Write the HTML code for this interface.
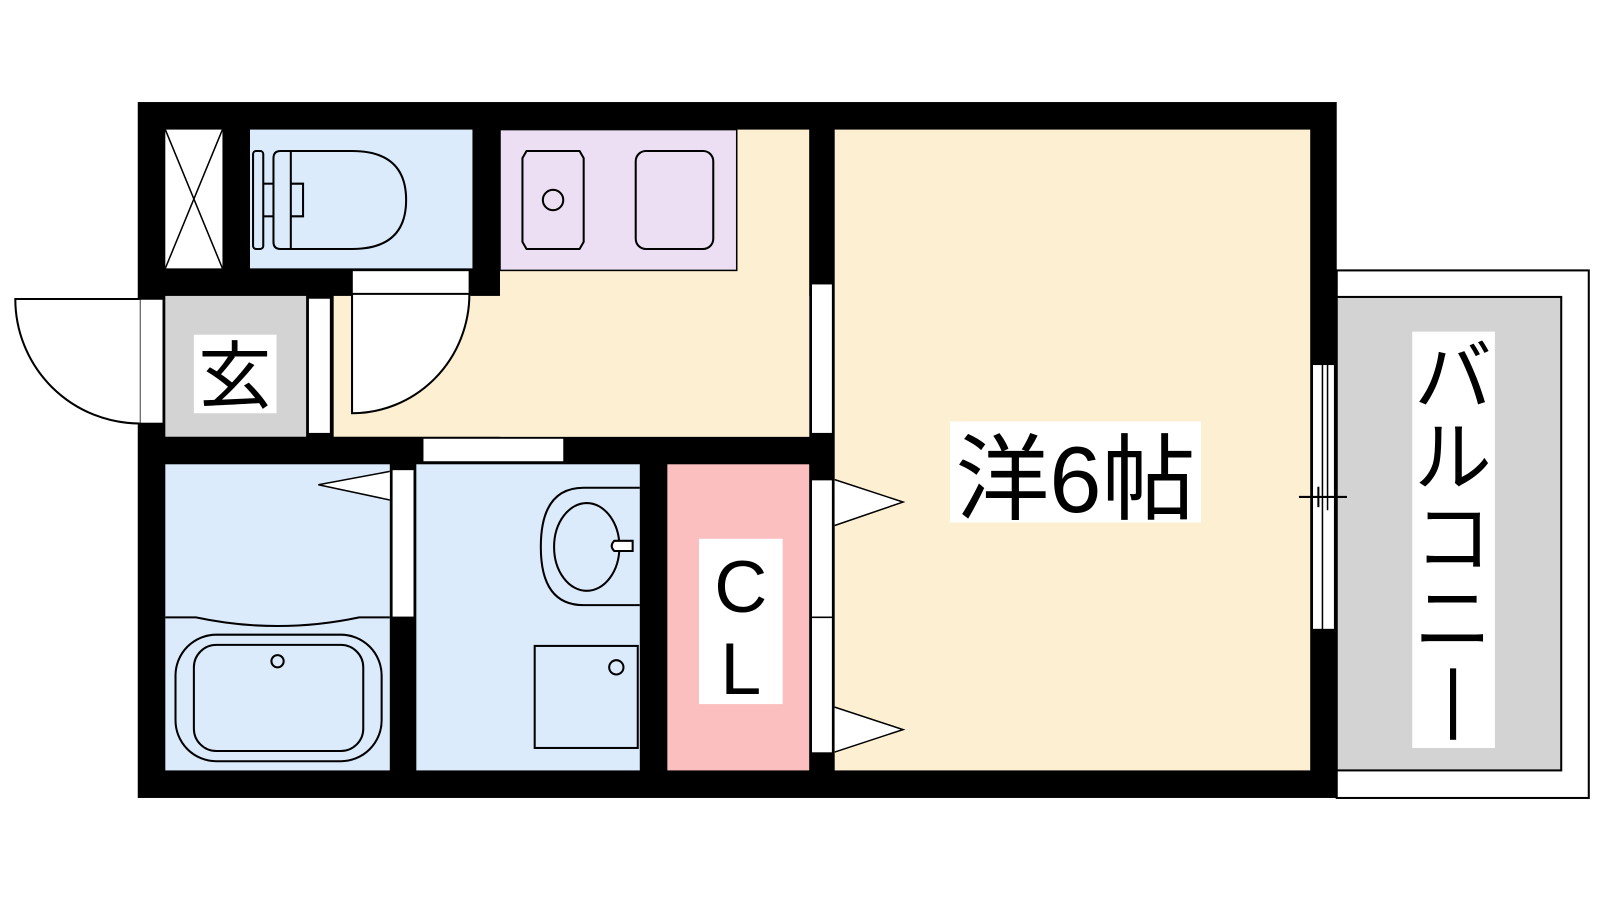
<!DOCTYPE html>
<html><head><meta charset="utf-8"><style>html,body{margin:0;padding:0;background:#fff;width:1600px;height:900px;overflow:hidden}svg{display:block}</style></head><body>
<svg width="1600" height="900" viewBox="0 0 1568 882" preserveAspectRatio="none" xmlns="http://www.w3.org/2000/svg">
<rect x="1310" y="265" width="247" height="517" fill="#fff" stroke="#000" stroke-width="2"/>
<rect x="1310" y="291" width="220" height="464" fill="#d3d3d3" stroke="#000" stroke-width="2"/>
<rect x="135" y="100" width="1175" height="682" fill="#000"/>
<rect x="162" y="127" width="56" height="136" fill="#fff"/>
<line x1="162" y1="127" x2="218" y2="263" stroke="#000" stroke-width="1.5"/>
<line x1="218" y1="127" x2="162" y2="263" stroke="#000" stroke-width="1.5"/>
<rect x="245" y="127" width="218" height="136" fill="#dbebfc"/>
<rect x="490" y="127" width="303" height="301" fill="#fdf0d2"/>
<rect x="327" y="290" width="466" height="138" fill="#fdf0d2"/>
<rect x="490" y="127" width="232" height="138" fill="#ecdff4" stroke="#000" stroke-width="1.5"/>
<rect x="162" y="290" width="138" height="138" fill="#d3d3d3"/>
<rect x="162" y="455" width="220" height="300" fill="#dbebfc"/>
<rect x="408" y="455" width="219" height="300" fill="#dbebfc"/>
<rect x="654" y="455" width="139" height="300" fill="#fcbfbf"/>
<rect x="818" y="127" width="466" height="628" fill="#fdf0d2"/>
<rect x="345" y="265" width="115" height="23" fill="#fff" stroke="#000" stroke-width="1.5"/>
<rect x="302" y="292" width="22" height="133" fill="#fff" stroke="#000" stroke-width="1.5"/>
<rect x="137" y="293" width="23" height="122" fill="#fff" stroke="#000" stroke-width="1.5"/>
<rect x="415" y="430" width="137" height="22" fill="#fff"/>
<rect x="384" y="460" width="22" height="145" fill="#fff" stroke="#000" stroke-width="1.5"/>
<rect x="795" y="278" width="21" height="147" fill="#fff" stroke="#000" stroke-width="1.5"/>
<rect x="795" y="470" width="21" height="135" fill="#fff" stroke="#000" stroke-width="1.5"/>
<rect x="795" y="605" width="21" height="133" fill="#fff" stroke="#000" stroke-width="1.5"/>
<rect x="1286" y="357" width="22" height="260" fill="#fff" stroke="#000" stroke-width="1.5"/>
<line x1="1296" y1="357" x2="1296" y2="617" stroke="#000" stroke-width="1.5"/>
<line x1="1301" y1="357" x2="1301" y2="500" stroke="#000" stroke-width="1.5"/>
<line x1="1273" y1="487" x2="1320" y2="487" stroke="#000" stroke-width="2"/>
<line x1="1292" y1="477" x2="1292" y2="497" stroke="#000" stroke-width="2"/>
<path d="M137 293 L15 293 A122 122 0 0 0 137 415" fill="#fff" stroke="#000" stroke-width="2"/>
<path d="M345 288 L345 405 A115 117 0 0 0 460 288 Z" fill="#fff" stroke="#000" stroke-width="2"/>
<path d="M382 462 L312 475 L382 490" fill="#fff" stroke="#000" stroke-width="1.5"/>
<path d="M818 470 L885 492 L818 515" fill="#fff" stroke="#000" stroke-width="1.5"/>
<path d="M818 693 L885 715 L818 737" fill="#fff" stroke="#000" stroke-width="1.5"/>
<g fill="none" stroke="#000" stroke-width="2">
<rect x="248" y="148" width="10" height="96" rx="3"/>
<path d="M275 148 L345 148 Q398 148 398 196 Q398 244 345 244 L275 244 Q268 244 268 237 L268 155 Q268 148 275 148 Z"/>
<line x1="285" y1="148" x2="285" y2="244"/>
<path d="M285 180 L297 180 L297 212 L285 212"/>
<line x1="258" y1="180" x2="268" y2="180"/><line x1="258" y1="212" x2="268" y2="212"/>
<path d="M516 148 L568 148 L572 155 L572 237 L568 244 L516 244 L512 237 L512 155 Z"/>
<circle cx="542" cy="196" r="10"/>
<rect x="623" y="148" width="76" height="96" rx="10"/>
<path d="M162 605 L192 605 Q272 622 352 605 L382 605"/>
<rect x="172" y="622" width="202" height="124" rx="40"/>
<rect x="190" y="632" width="166" height="104" rx="22"/>
<circle cx="272" cy="648" r="6"/>
<path d="M627 478 L572 478 Q530 478 530 536 Q530 593 572 593 L627 593"/>
<ellipse cx="575" cy="536" rx="32" ry="43"/>
<path d="M620 530 L602 530 Q597 535 602 540 L620 540 Z" fill="#fff"/>
<rect x="524" y="633" width="101" height="100"/>
<circle cx="604" cy="654" r="7"/>
</g>
<g font-family="'Liberation Sans','Noto Sans CJK JP',sans-serif" fill="#000">
<rect x="190" y="328" width="81" height="77" fill="#fff"/>
<text x="230" y="394" font-size="72" text-anchor="middle">玄</text>
<rect x="685" y="528" width="82" height="162" fill="#fff"/>
<text x="726" y="600" font-size="72" text-anchor="middle">C</text>
<text x="726" y="680" font-size="72" text-anchor="middle">L</text>
<rect x="931" y="413" width="246" height="99" fill="#fff"/>
<text x="1054" y="502" font-size="92" text-anchor="middle">洋6帖</text>
<rect x="1384" y="325" width="81" height="408" fill="#fff"/>
<text x="1424" y="396" font-size="76" text-anchor="middle">バ</text>
<text x="1424" y="475" font-size="76" text-anchor="middle">ル</text>
<text x="1424" y="554" font-size="76" text-anchor="middle">コ</text>
<text x="1424" y="633" font-size="76" text-anchor="middle">ニ</text>
<rect x="1421" y="655" width="6" height="70"/>
</g>
</svg>
</body></html>
